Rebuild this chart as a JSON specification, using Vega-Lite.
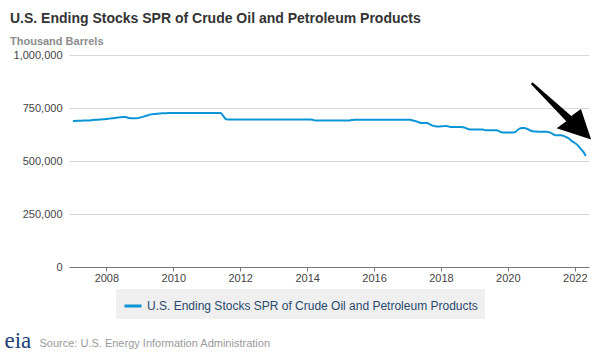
{
  "$schema": "https://vega.github.io/schema/vega-lite/v6.json",
  "width": 520,
  "height": 212,
  "autosize": {"type": "none"},
  "padding": {"left": 69, "top": 55, "right": 11, "bottom": 87},
  "background": "white",
  "config": {"font": "Liberation Sans", "view": {"stroke": null}},
  "title": {
    "text": "U.S. Ending Stocks SPR of Crude Oil and Petroleum Products",
    "subtitle": "Thousand Barrels",
    "anchor": "start",
    "frame": "group",
    "dx": -59,
    "offset": 2,
    "fontSize": 14,
    "fontWeight": "bold",
    "color": "#333333",
    "subtitleFontSize": 11,
    "subtitleFontWeight": "bold",
    "subtitleColor": "#8c8c8c",
    "subtitlePadding": 10
  },
  "datasets": {
    "spr": [
      {"date": "2007-01-01", "value": 688600}, {"date": "2007-02-01", "value": 689000}, {"date": "2007-03-01", "value": 689600}, {"date": "2007-04-01", "value": 690100}, {"date": "2007-05-01", "value": 690500}, {"date": "2007-06-01", "value": 690900}, {"date": "2007-07-01", "value": 691600}, {"date": "2007-08-01", "value": 692900}, {"date": "2007-09-01", "value": 694200}, {"date": "2007-10-01", "value": 694900}, {"date": "2007-11-01", "value": 695900}, {"date": "2007-12-01", "value": 696900},
      {"date": "2008-01-01", "value": 698100}, {"date": "2008-02-01", "value": 699900}, {"date": "2008-03-01", "value": 701300}, {"date": "2008-04-01", "value": 702500}, {"date": "2008-05-01", "value": 704900}, {"date": "2008-06-01", "value": 706700}, {"date": "2008-07-01", "value": 707200}, {"date": "2008-08-01", "value": 707300}, {"date": "2008-09-01", "value": 702400}, {"date": "2008-10-01", "value": 701600}, {"date": "2008-11-01", "value": 701800}, {"date": "2008-12-01", "value": 701800},
      {"date": "2009-01-01", "value": 704700}, {"date": "2009-02-01", "value": 708000}, {"date": "2009-03-01", "value": 712000}, {"date": "2009-04-01", "value": 716000}, {"date": "2009-05-01", "value": 719900}, {"date": "2009-06-01", "value": 721300}, {"date": "2009-07-01", "value": 722900}, {"date": "2009-08-01", "value": 724100}, {"date": "2009-09-01", "value": 725000}, {"date": "2009-10-01", "value": 725100}, {"date": "2009-11-01", "value": 726300}, {"date": "2009-12-01", "value": 726600},
      {"date": "2010-01-01", "value": 726600}, {"date": "2010-02-01", "value": 726600}, {"date": "2010-03-01", "value": 726600}, {"date": "2010-04-01", "value": 726600}, {"date": "2010-05-01", "value": 726600}, {"date": "2010-06-01", "value": 726600}, {"date": "2010-07-01", "value": 726600}, {"date": "2010-08-01", "value": 726600}, {"date": "2010-09-01", "value": 726600}, {"date": "2010-10-01", "value": 726600}, {"date": "2010-11-01", "value": 726600}, {"date": "2010-12-01", "value": 726500},
      {"date": "2011-01-01", "value": 726600}, {"date": "2011-02-01", "value": 726600}, {"date": "2011-03-01", "value": 726500}, {"date": "2011-04-01", "value": 726500}, {"date": "2011-05-01", "value": 726500}, {"date": "2011-06-01", "value": 726500}, {"date": "2011-07-01", "value": 712000}, {"date": "2011-08-01", "value": 697000}, {"date": "2011-09-01", "value": 696000}, {"date": "2011-10-01", "value": 696000}, {"date": "2011-11-01", "value": 696000}, {"date": "2011-12-01", "value": 695900},
      {"date": "2012-01-01", "value": 695900}, {"date": "2012-02-01", "value": 695900}, {"date": "2012-03-01", "value": 695900}, {"date": "2012-04-01", "value": 695900}, {"date": "2012-05-01", "value": 695900}, {"date": "2012-06-01", "value": 695900}, {"date": "2012-07-01", "value": 695900}, {"date": "2012-08-01", "value": 695900}, {"date": "2012-09-01", "value": 695300}, {"date": "2012-10-01", "value": 695300}, {"date": "2012-11-01", "value": 695300}, {"date": "2012-12-01", "value": 695300},
      {"date": "2013-01-01", "value": 695900}, {"date": "2013-02-01", "value": 696000}, {"date": "2013-03-01", "value": 696000}, {"date": "2013-04-01", "value": 696000}, {"date": "2013-05-01", "value": 696000}, {"date": "2013-06-01", "value": 696000}, {"date": "2013-07-01", "value": 696000}, {"date": "2013-08-01", "value": 696000}, {"date": "2013-09-01", "value": 696000}, {"date": "2013-10-01", "value": 696000}, {"date": "2013-11-01", "value": 696000}, {"date": "2013-12-01", "value": 696000},
      {"date": "2014-01-01", "value": 696000}, {"date": "2014-02-01", "value": 696000}, {"date": "2014-03-01", "value": 694500}, {"date": "2014-04-01", "value": 691000}, {"date": "2014-05-01", "value": 691000}, {"date": "2014-06-01", "value": 691000}, {"date": "2014-07-01", "value": 691000}, {"date": "2014-08-01", "value": 691000}, {"date": "2014-09-01", "value": 691000}, {"date": "2014-10-01", "value": 691000}, {"date": "2014-11-01", "value": 691000}, {"date": "2014-12-01", "value": 691000},
      {"date": "2015-01-01", "value": 691000}, {"date": "2015-02-01", "value": 691000}, {"date": "2015-03-01", "value": 691000}, {"date": "2015-04-01", "value": 691000}, {"date": "2015-05-01", "value": 693000}, {"date": "2015-06-01", "value": 695100}, {"date": "2015-07-01", "value": 695100}, {"date": "2015-08-01", "value": 695100}, {"date": "2015-09-01", "value": 695100}, {"date": "2015-10-01", "value": 695100}, {"date": "2015-11-01", "value": 695100}, {"date": "2015-12-01", "value": 695100},
      {"date": "2016-01-01", "value": 695100}, {"date": "2016-02-01", "value": 695100}, {"date": "2016-03-01", "value": 695100}, {"date": "2016-04-01", "value": 695100}, {"date": "2016-05-01", "value": 695100}, {"date": "2016-06-01", "value": 695100}, {"date": "2016-07-01", "value": 695100}, {"date": "2016-08-01", "value": 695100}, {"date": "2016-09-01", "value": 695100}, {"date": "2016-10-01", "value": 695100}, {"date": "2016-11-01", "value": 695100}, {"date": "2016-12-01", "value": 695100},
      {"date": "2017-01-01", "value": 695100}, {"date": "2017-02-01", "value": 694500}, {"date": "2017-03-01", "value": 691000}, {"date": "2017-04-01", "value": 688000}, {"date": "2017-05-01", "value": 683200}, {"date": "2017-06-01", "value": 679000}, {"date": "2017-07-01", "value": 679000}, {"date": "2017-08-01", "value": 679000}, {"date": "2017-09-01", "value": 673600}, {"date": "2017-10-01", "value": 667100}, {"date": "2017-11-01", "value": 664000}, {"date": "2017-12-01", "value": 662800},
      {"date": "2018-01-01", "value": 663500}, {"date": "2018-02-01", "value": 664500}, {"date": "2018-03-01", "value": 665500}, {"date": "2018-04-01", "value": 662000}, {"date": "2018-05-01", "value": 660000}, {"date": "2018-06-01", "value": 660000}, {"date": "2018-07-01", "value": 660000}, {"date": "2018-08-01", "value": 660000}, {"date": "2018-09-01", "value": 659000}, {"date": "2018-10-01", "value": 655000}, {"date": "2018-11-01", "value": 650000}, {"date": "2018-12-01", "value": 649100},
      {"date": "2019-01-01", "value": 649100}, {"date": "2019-02-01", "value": 649100}, {"date": "2019-03-01", "value": 649100}, {"date": "2019-04-01", "value": 648600}, {"date": "2019-05-01", "value": 645000}, {"date": "2019-06-01", "value": 644800}, {"date": "2019-07-01", "value": 644800}, {"date": "2019-08-01", "value": 644800}, {"date": "2019-09-01", "value": 644800}, {"date": "2019-10-01", "value": 640000}, {"date": "2019-11-01", "value": 635000}, {"date": "2019-12-01", "value": 635000},
      {"date": "2020-01-01", "value": 635000}, {"date": "2020-02-01", "value": 635000}, {"date": "2020-03-01", "value": 635000}, {"date": "2020-04-01", "value": 640000}, {"date": "2020-05-01", "value": 651000}, {"date": "2020-06-01", "value": 656100}, {"date": "2020-07-01", "value": 656100}, {"date": "2020-08-01", "value": 651000}, {"date": "2020-09-01", "value": 644000}, {"date": "2020-10-01", "value": 640000}, {"date": "2020-11-01", "value": 638600}, {"date": "2020-12-01", "value": 638100},
      {"date": "2021-01-01", "value": 638100}, {"date": "2021-02-01", "value": 638100}, {"date": "2021-03-01", "value": 638100}, {"date": "2021-04-01", "value": 635000}, {"date": "2021-05-01", "value": 629000}, {"date": "2021-06-01", "value": 621300}, {"date": "2021-07-01", "value": 621300}, {"date": "2021-08-01", "value": 621300}, {"date": "2021-09-01", "value": 618400}, {"date": "2021-10-01", "value": 612500}, {"date": "2021-11-01", "value": 605000}, {"date": "2021-12-01", "value": 593700},
      {"date": "2022-01-01", "value": 585000}, {"date": "2022-02-01", "value": 575000}, {"date": "2022-03-01", "value": 560000}, {"date": "2022-04-01", "value": 545000}, {"date": "2022-05-01", "value": 524000}
    ],
    "arrow": [
      {"date": "2021-08-08", "value": 734300}
    ]
  },
  "layer": [
    {
      "data": {"name": "spr"},
      "mark": {"type": "line", "strokeWidth": 2, "interpolate": "monotone"},
      "encoding": {
        "x": {
          "field": "date",
          "type": "temporal",
          "scale": {
            "type": "utc",
            "domain": [
              {"year": 2006, "month": 11, "date": 19, "utc": true},
              {"year": 2022, "month": 6, "date": 5, "utc": true}
            ]
          },
          "axis": {
            "values": [
              {"year": 2008, "utc": true}, {"year": 2010, "utc": true}, {"year": 2012, "utc": true}, {"year": 2014, "utc": true},
              {"year": 2016, "utc": true}, {"year": 2018, "utc": true}, {"year": 2020, "utc": true}, {"year": 2022, "utc": true}
            ],
            "format": "%Y",
            "grid": false,
            "domainColor": "#777777",
            "domainWidth": 1,
            "tickColor": "#777777",
            "tickSize": 4,
            "labelFontSize": 11,
            "labelColor": "#444444",
            "labelPadding": 1,
            "labelFont": "Liberation Sans",
            "title": "Source: U.S. Energy Information Administration",
            "titleFont": "Liberation Sans",
            "titleFontSize": 11,
            "titleFontWeight": "normal",
            "titleColor": "#999999",
            "titleAnchor": "start",
            "titleAlign": "left",
            "titleBaseline": "alphabetic",
            "titleX": -30,
            "titleY": 79
          }
        },
        "y": {
          "field": "value",
          "type": "quantitative",
          "scale": {"domain": [0, 1000000]},
          "axis": {
            "values": [0, 250000, 500000, 750000, 1000000],
            "format": ",d",
            "domain": false,
            "ticks": false,
            "gridColor": "#d9d9d9",
            "gridWidth": 1,
            "labelFontSize": 11,
            "labelColor": "#444444",
            "labelPadding": 7,
            "labelFont": "Liberation Sans",
            "title": "eia",
            "titleFont": "Liberation Serif",
            "titleFontSize": 23,
            "titleFontWeight": "normal",
            "titleColor": "#20407a",
            "titleAngle": 0,
            "titleAlign": "left",
            "titleBaseline": "alphabetic",
            "titleX": -65,
            "titleY": 292
          }
        },
        "color": {
          "datum": "U.S. Ending Stocks SPR of Crude Oil and Petroleum Products",
          "type": "nominal",
          "scale": {"range": ["#0b95d7"]},
          "legend": {
            "title": null,
            "orient": "none",
            "legendX": 47,
            "legendY": 234,
            "direction": "horizontal",
            "padding": 7,
            "fillColor": "#efefef",
            "symbolType": "stroke",
            "symbolSize": 289,
            "symbolStrokeWidth": 3,
            "labelFontSize": 12,
            "labelLimit": 0,
            "labelColor": "#2a4a6e",
            "labelFont": "Liberation Sans",
            "labelOffset": 4
          }
        }
      }
    },
    {
      "data": {"name": "arrow"},
      "mark": {
        "type": "point",
        "shape": "M -0.962 -0.969 L 0.328 0.153 L 0.65 -0.08 L 0.99 0.94 L -0.16 0.56 L 0.162 0.327 L -1.018 -0.911 Z",
        "filled": true,
        "size": 3600,
        "color": "#000000",
        "opacity": 1,
        "strokeWidth": 0
      },
      "encoding": {
        "x": {"field": "date", "type": "temporal"},
        "y": {"field": "value", "type": "quantitative"}
      }
    }
  ]
}
